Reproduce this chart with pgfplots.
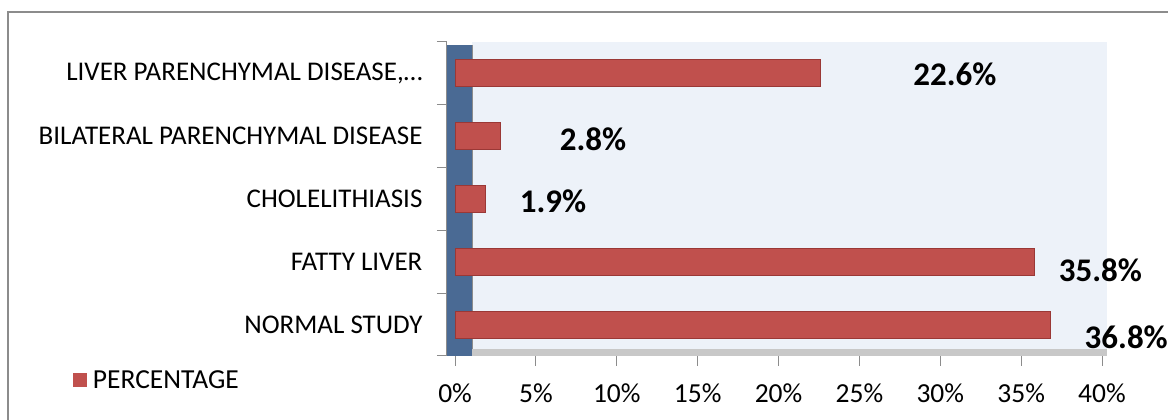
\documentclass[border=0pt]{standalone}
\usepackage{fontspec}
\setmainfont{Carlito}
\usepackage{pgfplots}
\usepackage{pgfplotstable}
\pgfplotsset{compat=1.18}
\definecolor{barred}{HTML}{C0504D}
\definecolor{bardark}{HTML}{9A3836}
\definecolor{wallblue}{HTML}{4A6A94}
\definecolor{backwall}{HTML}{EDF2F9}
\definecolor{floorgrey}{HTML}{C8C8C8}
\definecolor{axisgrey}{HTML}{8C8C8C}
\pgfplotstableread{
y v
0 36.8
1 35.8
2 1.9
3 2.8
4 22.6
}\bars
\pgfplotstableread{
lx ly v
41.5 -0.197 36.8
39.9 0.869 35.8
6.06 1.968 1.9
8.53 2.955 2.8
30.9 3.99 22.6
}\labs
\begin{document}
\begin{tikzpicture}[x=1pt,y=1pt]
\useasboundingbox (0,0) rectangle (1168,420);
\draw[axisgrey, line width=2pt] (8,-5) -- (8,408) -- (1175,408);
\begin{axis}[
  at={(447pt,64pt)}, anchor=south west,
  scale only axis, width=655pt, height=314pt,
  xmin=-0.5, xmax=40, ymin=-0.5, ymax=4.5,
  clip=false,
  /pgf/number format/assume math mode=true,
  axis lines*=left,
  axis line style={axisgrey, line width=1pt, -},
  tick align=outside,
  major tick length=10pt, minor tick length=10pt,
  tick style={axisgrey, line width=1pt},
  xtick={0,5,...,40},
  xticklabel={\pgfmathprintnumber{\tick}\%},
  xticklabel style={yshift=-14pt, font=\fontsize{27.5}{32}\selectfont},
  ytick={0,1,2,3,4},
  yticklabels={NORMAL STUDY, FATTY LIVER, CHOLELITHIASIS, BILATERAL PARENCHYMAL DISEASE, {LIVER PARENCHYMAL DISEASE,…}},
  yticklabel style={xshift=-11pt, font=\fontsize{27}{32}\selectfont},
  major y tick style={draw=none},
  minor ytick={-0.5,0.5,...,4.5},
  minor y tick style={axisgrey, line width=1pt},
  legend style={at={(-0.576,-0.0764)}, anchor=west, draw=none, fill=none,
    font=\fontsize{27.5}{32}\selectfont},
  legend image code/.code={\fill[barred, draw=none] (0pt,-7pt) rectangle (14pt,7pt); \path[draw=none, fill=none] (0pt,0pt) rectangle (18pt,0.1pt);},
]
\fill[backwall] (axis cs:1.05,-0.39) rectangle (axis cs:40.3,4.5);
\fill[floorgrey] (axis cs:-0.5,-0.5) -- (axis cs:1.05,-0.39) -- (axis cs:40.3,-0.39) -- (axis cs:40.3,-0.5) -- cycle;
\fill[wallblue] (axis cs:-0.5,-0.5) rectangle (axis cs:1.05,4.45);
\draw[axisgrey, line width=1pt] (axis cs:1.05,-0.39) -- (axis cs:1.05,4.45);
\addplot[xbar, bar width=27pt, fill=barred, draw=bardark, line width=0.8pt]
  table[x=v, y=y] {\bars};
\addlegendentry{PERCENTAGE}
\addplot[draw=none, mark=none, forget plot, point meta=explicit,
  nodes near coords={\pgfmathprintnumber[fixed,fixed zerofill,precision=1,assume math mode=true]{\pgfplotspointmeta}\%},
  nodes near coords style={anchor=center, font=\bfseries\fontsize{33}{38}\selectfont, text=black}]
  table[x=lx, y=ly, meta=v] {\labs};
\end{axis}
\end{tikzpicture}
\end{document}
